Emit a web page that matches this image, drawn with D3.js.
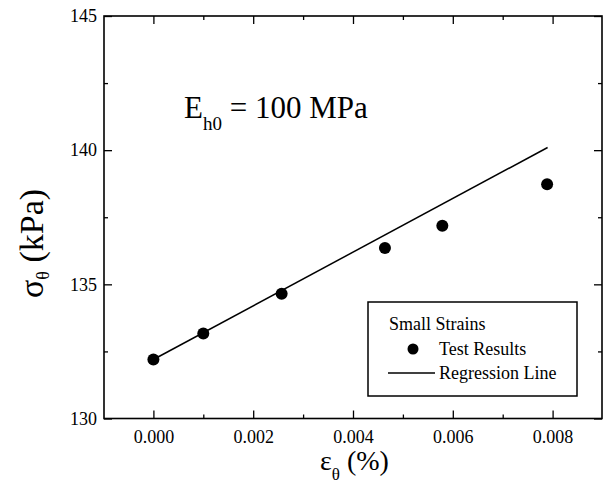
<!DOCTYPE html>
<html>
<head>
<meta charset="utf-8">
<script src="https://cdn.jsdelivr.net/npm/d3@7"></script>
<style>
  body { margin: 0; background: #fff; }
</style>
</head>
<body>
<div id="chart"></div>
<script>
// hoop strain vs hoop stress, small strain range
const strain = [0.0, 0.001, 0.00257, 0.00464, 0.00579, 0.00789];
const stress = [132.2, 133.17, 134.65, 136.35, 137.18, 138.73];

// fitted line, slope from E_h0
const regStrain = [0.0, 0.0079];
const regStress = [132.2, 140.1];

const xMajor = [0.000, 0.002, 0.004, 0.006, 0.008];
const xMinor = [0.001, 0.003, 0.005, 0.007];
const yMajor = [130, 135, 140, 145];
const yMinor = [132.5, 137.5, 142.5];

const width = 606, height = 497;
const plotLeft = 104, plotRight = 602, plotTop = 16, plotBottom = 418.5;
const serif = "'Liberation Serif', 'Times New Roman', Times, serif";

const svg = d3.select('#chart').append('svg')
    .attr('width', width)
    .attr('height', height)
    .attr('font-family', serif);

const x = d3.scaleLinear().domain([-0.001, 0.009]).range([plotLeft - 0.5, plotRight + 0.5]);
const y = d3.scaleLinear().domain([130, 145]).range([plotBottom, plotTop]);

// ticks point inward on all four sides
function drawAxis(axis, tx, ty, labels) {
    let g = svg.append('g')
        .attr('transform', `translate(${tx},${ty})`)
        .call(axis)
        .attr('font-family', serif)
        .attr('font-size', 18);
    g.select('.domain').remove();
    g.selectAll('line').attr('stroke', '#000').attr('stroke-width', 1.3);
    if (labels) {
        g.selectAll('text')
            .attr('font-family', serif)
            .attr('fill', '#000');
    } else {
        g.selectAll('text').remove();
    }
    return g;
}

drawAxis(d3.axisBottom(x).tickValues(xMajor).tickSize(-8).tickPadding(12).tickFormat(d3.format('.3f')), 0, plotBottom, true);
drawAxis(d3.axisBottom(x).tickValues(xMinor).tickSize(-4), 0, plotBottom, false);
drawAxis(d3.axisTop(x).tickValues(xMajor).tickSize(-8), 0, plotTop, false);
drawAxis(d3.axisTop(x).tickValues(xMinor).tickSize(-4), 0, plotTop, false);

drawAxis(d3.axisLeft(y).tickValues(yMajor).tickSize(-8).tickPadding(7).tickFormat(d3.format('d')), plotLeft, 0, true);
drawAxis(d3.axisLeft(y).tickValues(yMinor).tickSize(-4), plotLeft, 0, false);
drawAxis(d3.axisRight(y).tickValues(yMajor).tickSize(-8), plotRight, 0, false);
drawAxis(d3.axisRight(y).tickValues(yMinor).tickSize(-4), plotRight, 0, false);

// frame
svg.append('rect')
    .attr('x', plotLeft)
    .attr('y', plotTop)
    .attr('width', plotRight - plotLeft)
    .attr('height', plotBottom - plotTop)
    .attr('fill', 'none')
    .attr('stroke', '#000')
    .attr('stroke-width', 1.6);

// regression line
const line = d3.line()
    .x(d => x(d[0]))
    .y(d => y(d[1]));

svg.append('path')
    .datum(d3.zip(regStrain, regStress))
    .attr('d', line)
    .attr('fill', 'none')
    .attr('stroke', '#000')
    .attr('stroke-width', 1.5);

// test results
svg.append('g')
    .selectAll('circle')
    .data(d3.zip(strain, stress))
    .enter()
    .append('circle')
    .attr('cx', d => x(d[0]))
    .attr('cy', d => y(d[1]))
    .attr('r', 6)
    .attr('fill', '#000');

// modulus annotation
let ann = svg.append('text')
    .attr('x', 184)
    .attr('y', 118)
    .attr('font-family', serif)
    .attr('font-size', 31);
ann.append('tspan').text('E');
ann.append('tspan').attr('dy', 12).attr('font-size', 19).text('h0');
ann.append('tspan').attr('dy', -12).text(' = 100 MPa');

// legend
const legend = svg.append('g')
    .attr('font-family', serif)
    .attr('font-size', 18);
legend.append('rect')
    .attr('x', 368)
    .attr('y', 302)
    .attr('width', 209)
    .attr('height', 94)
    .attr('fill', '#fff')
    .attr('stroke', '#000')
    .attr('stroke-width', 1.5);
legend.append('text')
    .attr('x', 389)
    .attr('y', 330)
    .text('Small Strains');
legend.append('circle')
    .attr('cx', 413)
    .attr('cy', 349)
    .attr('r', 5.5)
    .attr('fill', '#000');
legend.append('text')
    .attr('x', 439)
    .attr('y', 355)
    .text('Test Results');
legend.append('line')
    .attr('x1', 388)
    .attr('x2', 435)
    .attr('y1', 373)
    .attr('y2', 373)
    .attr('stroke', '#000')
    .attr('stroke-width', 1.5);
legend.append('text')
    .attr('x', 439)
    .attr('y', 379)
    .text('Regression Line');

// axis titles
let xt = svg.append('text')
    .attr('x', 320)
    .attr('y', 470)
    .attr('font-family', serif)
    .attr('font-size', 28);
xt.append('tspan').text('ε');
xt.append('tspan').attr('dy', 10).attr('font-size', 17).text('θ');
xt.append('tspan').attr('dy', -10).text(' (%)');

let yt = svg.append('text')
    .attr('transform', 'translate(43,298) rotate(-90)')
    .attr('font-family', serif)
    .attr('font-size', 34);
yt.append('tspan').text('σ');
yt.append('tspan').attr('dy', 6).attr('font-size', 18).text('θ');
yt.append('tspan').attr('dy', -6).text(' (kPa)');
</script>
</body>
</html>
